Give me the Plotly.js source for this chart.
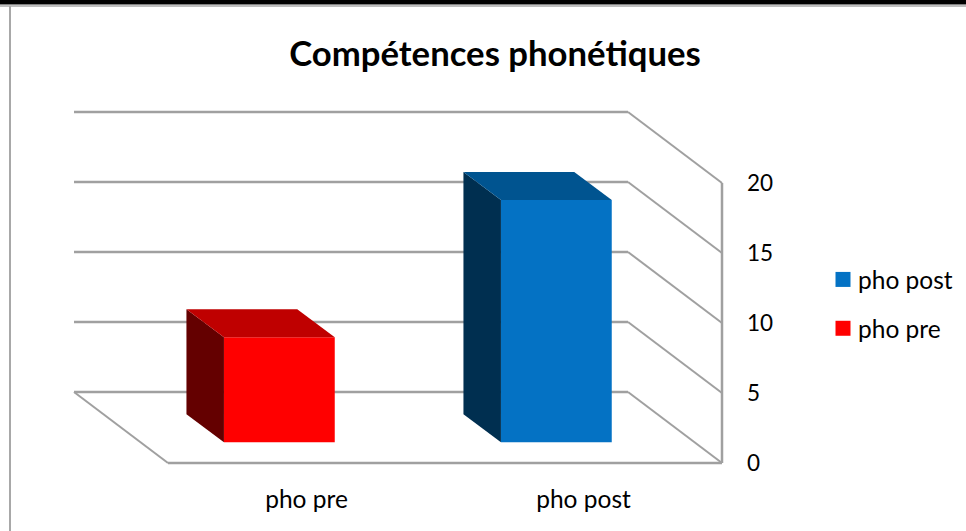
<!DOCTYPE html>
<html>
<head>
<meta charset="utf-8">
<script src="https://cdn.plot.ly/plotly-3.0.1.min.js"></script>
<style>html,body{margin:0;padding:0;background:#fff}#c{width:966px;height:531px}
.legendsymbols{transform:translateX(5px)}</style>
</head>
<body>
<div id="c"></div>
<script>
const categories = ['pho pre', 'pho post'];
const phoPre = [7.5, null];
const phoPost = [null, 17.3];
const yTicks = [0, 5, 10, 15, 20];
const titleText = 'Compétences phonétiques';

const W = 966, H = 531;
const X0 = 306.5, XU = 277;      // px of category 0, px per category
const Y0 = 463, YU = 14;         // px of value 0, px per value unit
const wallDX = 94 / XU, wallDY = 71 / YU;
const barBase = 1.48, barDX = 37.5 / XU, barDY = 2, barOffset = -0.298, barWidth = 0.4;
const GRID = '#a0a0a0';

const xr = [(0 - X0) / XU, (W - X0) / XU];
const yr = [(Y0 - H) / YU, Y0 / YU];
const xL = -0.5, xR = 1.5;

const shapes = [];
function seg(x0, y0, x1, y1, w) {
  shapes.push({type: 'line', xref: 'x', yref: 'y', x0, y0, x1, y1, layer: 'below',
    line: {color: GRID, width: w}});
}
yTicks.forEach(t => {
  seg(xL - wallDX, t + wallDY, xR - wallDX, t + wallDY, 2.5);
  seg(xR - wallDX, t + wallDY, xR, t, 2);
});
seg(xL - wallDX, wallDY, xL, 0, 2);
seg(xL, 0, xR, 0, 2.5);
seg(xR, 0, xR, yTicks[yTicks.length - 1], 2.5);
// page frame
shapes.push({type: 'rect', xref: 'paper', yref: 'paper', x0: 0, x1: 1, y0: 1 - 4.5 / H, y1: 1,
  fillcolor: '#000', line: {width: 0}, layer: 'below'});
shapes.push({type: 'line', xref: 'paper', yref: 'paper', x0: 0, x1: 1, y0: 1 - 6 / H, y1: 1 - 6 / H,
  line: {color: '#a8a8a8', width: 1.5}, layer: 'below'});
shapes.push({type: 'line', xref: 'paper', yref: 'paper', x0: 10 / W, x1: 10 / W, y0: 0, y1: 1 - 6 / H,
  line: {color: '#a8a8a8', width: 2}, layer: 'below'});

function faces(i, v, sideColor, topColor) {
  const l = i + barOffset, r = l + barWidth, b = barBase, t = barBase + v;
  return [
    {x: [l, l, l - barDX, l - barDX, l], y: [b, t, t + barDY, b + barDY, b], color: sideColor},
    {x: [l, r, r - barDX, l - barDX, l], y: [t, t, t + barDY, t + barDY, t], color: topColor}
  ].map(f => ({type: 'scatter', mode: 'lines', x: f.x, y: f.y, fill: 'toself', fillcolor: f.color,
    line: {width: 0, color: f.color}, showlegend: false, hoverinfo: 'skip'}));
}
function front(i, v, color, name) {
  return {type: 'bar', x: [i], y: [v], base: [barBase], width: [barWidth], offset: [barOffset],
    marker: {color, line: {width: 0}}, name, showlegend: false};
}
function legendItem(name, color, group) {
  return {type: 'scatter', mode: 'markers', x: [null], y: [null], name, legendgroup: group,
    marker: {symbol: 'square', size: 15, color}, hoverinfo: 'skip'};
}

const traces = [
  front(0, phoPre[0], '#ff0000', 'pho pre'),
  front(1, phoPost[1], '#0472c4', 'pho post'),
  ...faces(0, phoPre[0], '#640000', '#bf0000'),
  ...faces(1, phoPost[1], '#002f50', '#005490'),
  legendItem('pho post', '#0472c4', 'a'),
  legendItem('pho pre', '#ff0000', 'b')
];

const font = 'Lato, Carlito, sans-serif';
const layout = {
  width: W, height: H,
  margin: {l: 0, r: 0, t: 0, b: 0, pad: 0},
  paper_bgcolor: '#fff', plot_bgcolor: 'rgba(0,0,0,0)',
  font: {family: font, color: '#000'},
  title: {text: '<b>' + titleText + '</b>', x: 495 / W, xanchor: 'center', xref: 'paper',
    y: 1 - 54 / H, yanchor: 'middle', yref: 'paper', font: {family: font, size: 34.7, color: '#000'}},
  xaxis: {type: 'linear', range: xr, tickvals: categories.map((c, i) => i), ticktext: categories,
    showgrid: false, zeroline: false, showline: false, ticks: '', automargin: false,
    anchor: 'free', position: (H - Y0) / H, ticklabelstandoff: 19, tickfont: {size: 24.5, family: font, color: '#000'}},
  yaxis: {type: 'linear', range: yr, tickvals: yTicks, side: 'right', ticklabelshift: -1.5,
    showgrid: false, zeroline: false, showline: false, ticks: '', automargin: false,
    anchor: 'free', position: (X0 + XU * xR) / W, ticklabelstandoff: 24,
    tickfont: {size: 22.5, family: font, color: '#000'}},
  shapes,
  showlegend: true,
  legend: {x: 818 / W, xanchor: 'left', y: 1 - 257 / H, yanchor: 'top', bgcolor: 'rgba(0,0,0,0)',
    font: {size: 24.5, family: font, color: '#000'}, tracegroupgap: 14, itemsizing: 'trace', itemwidth: 30},
  barmode: 'overlay',
  hovermode: false
};
Plotly.newPlot('c', traces, layout, {displayModeBar: false, staticPlot: true});
</script>
</body>
</html>
